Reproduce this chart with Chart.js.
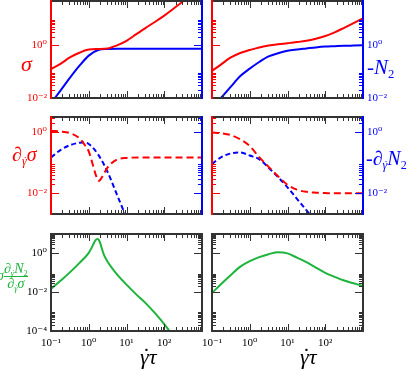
<!DOCTYPE html>
<html>
<head>
<meta charset="utf-8">
<script src="https://cdn.jsdelivr.net/npm/chart.js@4.4.1/dist/chart.umd.min.js"></script>
<style>
  html, body { margin: 0; padding: 0; background: #fff; }
  #wrap { position: relative; width: 415px; height: 369px; overflow: hidden; font-family: 'Liberation Serif', 'DejaVu Serif', serif; }
  #wrap canvas { position: absolute; left: 0; top: 0; }
  .t { position: absolute; white-space: nowrap; line-height: 1; }
  .t i { font-style: italic; }
  .s { font-size: 0.6em; position: relative; top: 0.35em; }
  .g { position: relative; display: inline-block; font-style: italic; }
  .g b { position: absolute; left: 0.12em; top: -0.05em; font-weight: normal; font-style: normal; }
  .frac { display: inline-block; vertical-align: middle; text-align: center; }
  .frac > span { display: block; }
  .frac .den { border-top: 1px solid currentColor; }
</style>
</head>
<body>
<div id="wrap">
  <canvas id="p1" width="415" height="369"></canvas>
  <canvas id="p2" width="415" height="369"></canvas>
  <canvas id="p3" width="415" height="369"></canvas>
  <canvas id="p4" width="415" height="369"></canvas>
  <canvas id="p5" width="415" height="369"></canvas>
  <canvas id="p6" width="415" height="369"></canvas>

  <div class="t" style="left:21px;top:53px;font-size:22px;color:#f00"><i>σ</i></div>
  <div class="t" style="left:367px;top:57px;font-size:21px;color:#00f">-<i>N</i><span class="s">2</span></div>
  <div class="t" style="left:12px;top:144px;font-size:20px;color:#f00"><i>∂</i><span class="s"><span class="g">γ<b>˙</b></span></span><i>σ</i></div>
  <div class="t" style="left:366px;top:148px;font-size:20px;color:#00f">-<i>∂</i><span class="s"><span class="g">γ<b>˙</b></span></span><i>N</i><span class="s">2</span></div>
  <div class="t" style="left:-3px;top:262px;font-size:14px;color:#1db43c"><i>σ</i><span class="frac"><span><i>∂</i><span class="s"><span class="g">γ<b>˙</b></span></span><i>N</i><span class="s">2</span></span><span class="den"><i>∂</i><span class="s"><span class="g">γ<b>˙</b></span></span><i>σ</i></span></span></div>
  <div class="t" style="left:140px;top:346px;font-size:22px;color:#000"><span class="g">γ<b>˙</b></span><i>τ</i></div>
  <div class="t" style="left:300px;top:346px;font-size:22px;color:#000"><span class="g">γ<b>˙</b></span><i>τ</i></div>
</div>
<script>
// shear rate grid (γ̇τ), quarter decades
const rate = [0.1, 0.178, 0.316, 0.562, 1, 1.78, 3.16, 5.62, 10, 17.8, 31.6, 56.2, 100, 178, 316, 562, 1000];

// top row: σ and -N2
const sigmaA = [0.123, 0.195, 0.339, 0.513, 0.684, 0.708, 0.741, 0.977, 1.45, 2.51, 4.37, 7.41, 12.9, 24.0, 44.7, 89.1, 178];
const n2A = [0.00631, 0.0191, 0.0575, 0.162, 0.398, 0.646, 0.708, 0.724, 0.724, 0.724, 0.724, 0.724, 0.724, 0.724, 0.724, 0.724, 0.724];
const sigmaB = [0.105, 0.191, 0.339, 0.501, 0.646, 0.813, 0.955, 1.07, 1.17, 1.29, 1.45, 1.74, 2.19, 3.02, 4.47, 6.76, 10.2];
const n2B = [0.00398, 0.0105, 0.0269, 0.0676, 0.129, 0.229, 0.372, 0.490, 0.603, 0.676, 0.741, 0.813, 0.871, 0.902, 0.933, 0.955, 0.977];

// middle row: derivatives
const rateDipA = [0.1, 0.178, 0.316, 0.562, 0.794, 1, 1.26, 1.58, 1.78, 2.0, 2.51, 3.16, 5.62, 10, 31.6, 100, 316, 1000];
const dSigmaA = [1.12, 1.07, 0.955, 0.646, 0.380, 0.240, 0.0933, 0.0363, 0.0257, 0.0275, 0.0437, 0.0708, 0.129, 0.145, 0.151, 0.151, 0.151, 0.151];
const rateN2A = [0.1, 0.178, 0.316, 0.562, 0.708, 1, 1.78, 3.16, 5.62, 10];
const dN2A = [0.151, 0.263, 0.380, 0.457, 0.468, 0.417, 0.186, 0.0501, 0.00891, 0.00158];
const dSigmaB = [1.0, 0.933, 0.813, 0.589, 0.355, 0.155, 0.0741, 0.0363, 0.0191, 0.0132, 0.0112, 0.0105, 0.0102, 0.0100, 0.0100, 0.0100, 0.0100];
const dN2B = [0.0933, 0.155, 0.204, 0.219, 0.174, 0.132, 0.0692, 0.0339, 0.0158, 0.00661, 0.00282, 0.00120, 0.000501];

// bottom row: σ ∂N2 / ∂σ
const ratePeakA = [0.1, 0.178, 0.316, 0.562, 1, 1.26, 1.51, 1.70, 1.91, 2.51, 3.16, 5.62, 10, 17.8, 31.6, 56.2, 100, 178];
const ratioA = [0.0148, 0.0389, 0.105, 0.316, 1.07, 2.45, 4.79, 5.50, 4.37, 0.871, 0.372, 0.0832, 0.0245, 0.00794, 0.00282, 0.000851, 0.000224, 0.0000501];
const ratioB = [0.00912, 0.0275, 0.0776, 0.209, 0.398, 0.646, 0.912, 1.15, 1.0, 0.603, 0.355, 0.186, 0.1, 0.0617, 0.0398, 0.0288, 0.0209];

// axis ranges and labelled decades
const xRange = [0.1, 1000];
const xLabelExp = [-1, 0, 1, 2];
const yRanges = [[0.01, 46], [0.0021, 3.2], [0.0001, 10]];
const yLabelExp = [[-2, 0], [-2, 0], [-4, -2, 0]];

const RED = '#ff0000', BLUE = '#0000ff', GREEN = '#1db43c', AXIS = '#333333';
const FONT = { family: "'Liberation Serif', 'DejaVu Serif', serif", size: 11 };
const COLS = [[51, 202], [212, 363]];
const ROWS = [[1, 98], [117, 214], [234, 331]];
const SUP = { '-': '⁻', '0': '⁰', '1': '¹', '2': '²', '3': '³', '4': '⁴' };

function decadeLabel(v, exps) {
  const lg = Math.log10(v), e = Math.round(lg);
  if (Math.abs(lg - e) > 1e-6 || !exps.includes(e)) return '';
  return '10' + String(e).split('').map(c => SUP[c]).join('');
}

function logMarks(min, max, keep) {
  const out = [];
  for (let e = Math.floor(Math.log10(min)); e <= Math.ceil(Math.log10(max)); e++) {
    if (!keep(e)) continue;
    for (let k = 1; k <= 9; k++) {
      const v = k * Math.pow(10, e);
      if (v >= min * 0.999 && v <= max * 1.001) out.push({ v, major: k === 1 });
    }
  }
  return out;
}

// inward ticks and coloured frame, xmgrace style
const frame = {
  id: 'frame',
  afterDatasetsDraw(chart, args, o) {
    const { ctx, chartArea: a, scales: { x, y } } = chart;
    const seg = (x1, y1, x2, y2, c) => {
      ctx.strokeStyle = c;
      ctx.beginPath(); ctx.moveTo(x1, y1); ctx.lineTo(x2, y2); ctx.stroke();
    };
    ctx.save();
    ctx.lineWidth = 1;
    for (const t of logMarks(x.min, x.max, () => true)) {
      const px = Math.round(x.getPixelForValue(t.v)) + 0.5;
      const len = t.major ? 7 : 4;
      seg(px, a.top, px, a.top + len, AXIS);
      seg(px, a.bottom, px, a.bottom - len, AXIS);
    }
    for (const t of logMarks(y.min, y.max, e => e % 2 === 0)) {
      const py = Math.round(y.getPixelForValue(t.v)) + 0.5;
      const len = t.major ? 8 : 4;
      seg(a.left, py, a.left + len, py, o.left);
      seg(a.right, py, a.right - len, py, o.right);
    }
    ctx.lineWidth = 2;
    seg(a.left, a.top, a.right, a.top, AXIS);
    seg(a.left, a.bottom, a.right, a.bottom, AXIS);
    seg(a.left, a.top - 1, a.left, a.bottom + 1, o.left);
    seg(a.right, a.top - 1, a.right, a.bottom + 1, o.right);
    ctx.restore();
  }
};

function panel(id, col, row, sets, o) {
  const [l, r] = COLS[col], [t, b] = ROWS[row];
  const side = 40, foot = row === 2 ? 24 : 0;
  new Chart(document.getElementById(id), {
    type: 'line',
    data: {
      datasets: sets.map(s => ({
        data: s.y.map((v, i) => ({ x: s.x[i], y: v })),
        borderColor: s.color,
        borderWidth: 2,
        borderDash: s.dash || [],
        pointRadius: 0,
        fill: false,
        cubicInterpolationMode: 'monotone'
      }))
    },
    options: {
      responsive: false,
      animation: false,
      devicePixelRatio: 1,
      events: [],
      layout: {
        padding: {
          left: col === 0 ? l - side : l,
          right: col === 0 ? 415 - r : 415 - r - side,
          top: t,
          bottom: 369 - b - foot
        }
      },
      plugins: { legend: { display: false }, tooltip: { enabled: false }, frame: o },
      scales: {
        x: {
          type: 'logarithmic', min: xRange[0], max: xRange[1],
          grid: { display: false, drawTicks: false }, border: { display: false },
          ticks: {
            display: row === 2, autoSkip: false, maxRotation: 0, padding: 6,
            color: '#000', font: FONT,
            callback: v => decadeLabel(v, xLabelExp)
          },
          afterFit: s => { s.height = foot; s.paddingLeft = 0; s.paddingRight = 0; }
        },
        y: {
          type: 'logarithmic', position: col === 0 ? 'left' : 'right',
          min: yRanges[row][0], max: yRanges[row][1],
          grid: { display: false, drawTicks: false }, border: { display: false },
          ticks: {
            display: o.labels !== null, autoSkip: false, padding: 4,
            color: o.labels || '#000', font: FONT,
            callback: v => decadeLabel(v, yLabelExp[row])
          },
          afterFit: s => { s.width = side; s.paddingTop = 0; s.paddingBottom = 0; }
        }
      }
    },
    plugins: [frame]
  });
}

const dashR = [7, 4], dashB = [5, 3];

panel('p1', 0, 0, [
  { x: rate, y: sigmaA, color: RED },
  { x: rate, y: n2A, color: BLUE }
], { left: RED, right: BLUE, labels: RED });

panel('p2', 1, 0, [
  { x: rate, y: sigmaB, color: RED },
  { x: rate, y: n2B, color: BLUE }
], { left: RED, right: BLUE, labels: BLUE });

panel('p3', 0, 1, [
  { x: rateDipA, y: dSigmaA, color: RED, dash: dashR },
  { x: rateN2A, y: dN2A, color: BLUE, dash: dashB }
], { left: RED, right: BLUE, labels: RED });

panel('p4', 1, 1, [
  { x: rate, y: dSigmaB, color: RED, dash: dashR },
  { x: rate, y: dN2B, color: BLUE, dash: dashB }
], { left: RED, right: BLUE, labels: BLUE });

panel('p5', 0, 2, [
  { x: ratePeakA, y: ratioA, color: GREEN }
], { left: AXIS, right: AXIS, labels: '#000' });

panel('p6', 1, 2, [
  { x: rate, y: ratioB, color: GREEN }
], { left: AXIS, right: AXIS, labels: null });
</script>
</body>
</html>
